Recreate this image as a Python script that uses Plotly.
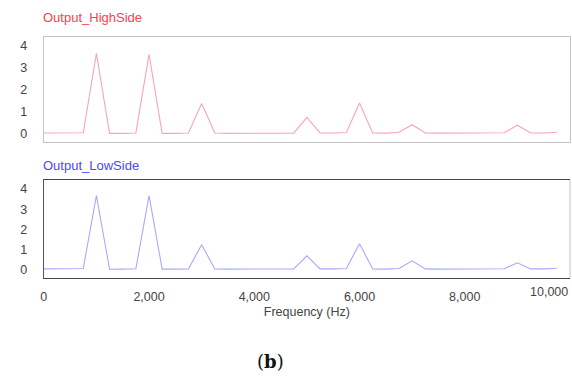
import plotly.graph_objects as go

freq_hz = [i * 250 for i in range(40)]

high_side = [0.05, 0.05, 0.05, 0.06, 3.65, 0.03, 0.03, 0.05, 3.6, 0.03,
             0.03, 0.05, 1.38, 0.05, 0.03, 0.03, 0.03, 0.03, 0.03, 0.04,
             0.75, 0.05, 0.05, 0.07, 1.4, 0.05, 0.04, 0.08, 0.42, 0.05,
             0.04, 0.04, 0.04, 0.04, 0.04, 0.06, 0.4, 0.05, 0.05, 0.08]

low_side = [0.05, 0.05, 0.06, 0.07, 3.68, 0.03, 0.04, 0.06, 3.68, 0.04,
            0.04, 0.05, 1.25, 0.05, 0.04, 0.04, 0.04, 0.04, 0.04, 0.05,
            0.7, 0.05, 0.05, 0.07, 1.3, 0.05, 0.04, 0.07, 0.45, 0.05,
            0.04, 0.04, 0.04, 0.04, 0.04, 0.06, 0.35, 0.05, 0.05, 0.08]

x_ticks = [0, 2000, 4000, 6000, 8000, 10000]
x_tick_text = ["0", "2,000", "4,000", "6,000", "8,000", ""]
y_ticks = [0, 1, 2, 3, 4]

W, H = 572, 376
def px(x):
    return x / W
def py(y):
    return 1 - y / H

fig = go.Figure()
fig.add_trace(go.Scatter(x=freq_hz, y=high_side, mode="lines",
                         line=dict(color="#f6a6b8", width=1.1),
                         xaxis="x", yaxis="y", showlegend=False))
fig.add_trace(go.Scatter(x=freq_hz, y=low_side, mode="lines",
                         line=dict(color="#a8a8ff", width=1.1),
                         xaxis="x2", yaxis="y2", showlegend=False))

fam = "Liberation Sans, Arial, sans-serif"
font = dict(family=fam, size=12.5, color="#444444")
dom_x = [px(41), px(570)]

fig.update_layout(
    width=W, height=H,
    margin=dict(l=0, r=0, t=0, b=0),
    paper_bgcolor="white", plot_bgcolor="white",
    font=font,
    xaxis=dict(domain=dom_x, range=[0, 10000], anchor="y",
               showticklabels=False, showgrid=False, zeroline=False,
               showline=True, linecolor="#c4c4c4", mirror=True, ticks=""),
    yaxis=dict(domain=[py(142), py(37)], range=[-0.36, 4.39], anchor="x",
               tickvals=y_ticks, showgrid=False, zeroline=False,
               showline=True, linecolor="#c4c4c4", mirror=True,
               ticks="outside", ticklen=13, tickcolor="rgba(0,0,0,0)"),
    xaxis2=dict(domain=dom_x, range=[0, 10000], anchor="y2",
                tickvals=x_ticks, ticktext=x_tick_text,
                showgrid=False, zeroline=False,
                showline=True, linecolor="#444444", mirror=True,
                ticks="outside", ticklen=7, tickcolor="rgba(0,0,0,0)",
                title=dict(text="Frequency (Hz)", font=font, standoff=4)),
    yaxis2=dict(domain=[py(278), py(180)], range=[-0.4, 4.45], anchor="x2",
                tickvals=y_ticks, showgrid=False, zeroline=False,
                showline=True, linecolor="#555555",
                ticks="outside", ticklen=13, tickcolor="rgba(0,0,0,0)"),
    shapes=[dict(type="line", xref="paper", yref="paper",
                 x0=px(570), x1=px(570), y0=py(278), y1=py(180),
                 line=dict(color="#c4c4c4", width=1))],
    annotations=[
        dict(text="Output_HighSide", xref="paper", yref="paper",
             x=px(38), y=py(18), xanchor="left", yanchor="middle",
             showarrow=False, font=dict(family=fam, size=13, color="#ff3c50")),
        dict(text="Output_LowSide", xref="paper", yref="paper",
             x=px(38), y=py(165), xanchor="left", yanchor="middle",
             showarrow=False, font=dict(family=fam, size=13, color="#4848ff")),
        dict(text="10,000", xref="x2", yref="paper",
             x=10000, y=py(292), xanchor="right", yanchor="middle",
             showarrow=False, font=font),
        dict(text="(<b>b</b>)", xref="paper", yref="paper",
             x=px(269), y=py(361), xanchor="center", yanchor="middle",
             showarrow=False, font=dict(family="DejaVu Serif, serif", size=18, color="#111111")),
    ],
)

fig.write_html("out.html")
